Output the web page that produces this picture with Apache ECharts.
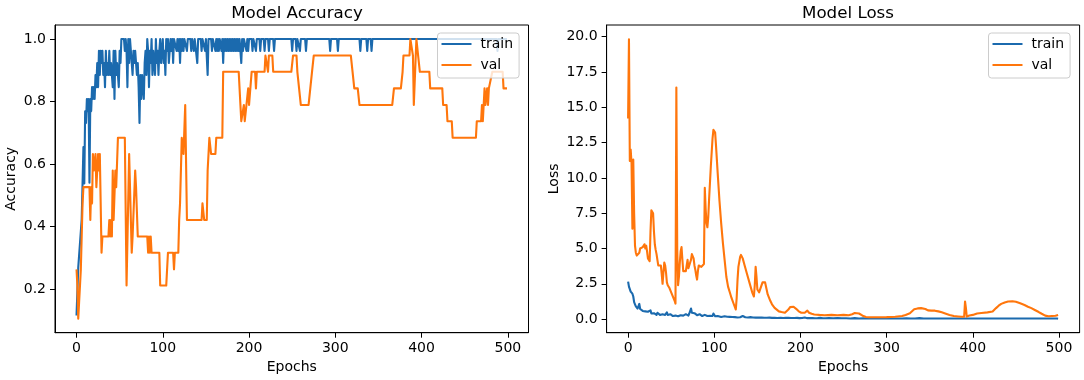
<!DOCTYPE html>
<html lang="en" style="height: 100%">
<head>
<meta charset="utf-8">
<title>Model Accuracy / Model Loss</title>
</head>
<body style="height: 100%; margin: 0; background: #fff">
<div id="container" style="width: 1084px; height: 380px"></div>

<script type="text/javascript" src="https://cdn.jsdelivr.net/npm/echarts/dist/echarts.min.js"></script>

<script type="text/javascript">

// [epoch, value] pairs
const accTrain = [
  [0,0.115],[2,0.269],[4,0.269],[6,0.423],[8,0.654],[9,0.538],[10,0.769],[11,0.731],[12,0.808],[13,0.769],
  [14,0.808],[15,0.54],[16,0.808],[17,0.769],[18,0.846],[19,0.808],[20,0.846],[21,0.808],[22,0.885],[23,0.846],
  [24,0.923],[25,0.846],[26,0.962],[27,0.885],[28,0.962],[29,0.923],[30,0.962],[31,0.885],[32,0.923],[33,0.846],
  [34,0.962],[35,0.885],[36,0.923],[37,0.885],[38,0.962],[39,0.885],[40,0.923],[41,0.885],[42,0.846],[43,0.962],
  [44,0.808],[45,0.962],[46,0.885],[47,0.923],[48,0.885],[49,0.846],[50,0.962],[51,0.923],[52,1],[55,1],
  [56,0.962],[57,1],[58,0.962],[59,0.846],[60,1],[61,0.923],[62,1],[63,0.962],[64,0.923],[65,0.885],
  [66,0.962],[67,0.923],[68,0.962],[69,0.923],[70,0.885],[71,0.923],[72,0.846],[73,0.731],[74,0.885],[75,0.808],
  [76,0.885],[77,0.846],[78,0.808],[79,0.923],[80,0.962],[81,0.885],[82,1],[83,0.962],[84,0.846],[85,0.962],
  [86,0.923],[87,1],[88,0.885],[89,0.962],[90,0.923],[91,0.885],[92,1],[93,0.923],[94,0.962],[95,0.885],
  [96,0.962],[97,1],[98,0.923],[99,0.962],[100,1],[101,0.923],[102,0.962],[103,0.885],[104,1],[105,0.962],
  [106,1],[107,0.923],[108,0.962],[109,1],[110,0.962],[111,1],[112,0.923],[113,1],[115,1],[116,0.962],
  [117,1],[118,0.962],[119,1],[120,0.923],[121,1],[122,0.962],[123,1],[124,0.962],[125,1],[127,1],
  [128,0.962],[129,1],[132,1],[133,0.962],[134,1],[135,1],[136,0.962],[137,1],[139,1],[140,0.923],
  [141,1],[144,1],[145,0.962],[146,1],[148,1],[149,0.962],[150,1],[151,1],[152,0.885],[153,1],
  [156,1],[157,0.962],[158,1],[160,1],[161,0.962],[162,1],[163,0.962],[164,1],[165,0.962],[166,1],
  [167,1],[168,0.962],[169,1],[170,0.923],[171,1],[172,0.962],[173,1],[174,0.962],[175,1],[176,0.962],
  [177,1],[178,0.962],[179,1],[180,0.962],[181,1],[182,0.962],[183,1],[184,0.962],[185,1],[186,0.962],
  [187,1],[188,0.962],[189,1],[190,0.962],[191,0.923],[192,1],[193,0.962],[194,1],[196,1],[197,0.962],
  [198,1],[199,0.962],[200,1],[203,1],[204,0.962],[205,1],[207,1],[208,0.962],[209,1],[212,1],
  [213,0.962],[214,1],[217,1],[218,0.962],[219,1],[222,1],[223,0.962],[224,1],[228,1],[229,0.962],
  [230,1],[249,1],[250,0.962],[251,1],[254,1],[255,0.962],[256,1],[258,1],[259,0.962],[260,1],
  [265,1],[266,0.962],[267,1],[293,1],[294,0.962],[295,1],[302,1],[303,0.962],[304,1],[328,1],
  [329,0.962],[330,1],[336,1],[337,0.962],[338,1],[341,1],[342,0.962],[343,1],[487,1],[488,0.962],
  [489,1],[499,1]
];

const accVal = [
  [0,0.263],[1,0.211],[2,0.105],[3,0.158],[5,0.263],[6,0.368],[7,0.474],[8,0.526],[15,0.526],[16,0.421],
  [17,0.526],[18,0.474],[19,0.632],[20,0.579],[22,0.632],[23,0.526],[24,0.526],[25,0.632],[26,0.579],[27,0.632],
  [29,0.316],[30,0.368],[37,0.368],[38,0.421],[39,0.368],[40,0.421],[41,0.368],[42,0.579],[43,0.421],[44,0.421],
  [45,0.579],[46,0.526],[48,0.684],[56,0.684],[58,0.211],[61,0.632],[64,0.316],[65,0.368],[68,0.579],[69,0.526],
  [71,0.368],[82,0.368],[83,0.316],[84,0.368],[85,0.316],[86,0.368],[87,0.316],[96,0.316],[97,0.211],[104,0.211],
  [106,0.316],[112,0.316],[113,0.263],[114,0.316],[118,0.316],[119,0.421],[120,0.474],[122,0.684],[124,0.632],[126,0.789],
  [128,0.421],[145,0.421],[146,0.474],[147,0.474],[148,0.421],[151,0.421],[152,0.579],[154,0.684],[156,0.632],[161,0.632],
  [162,0.684],[169,0.684],[170,0.895],[188,0.895],[190,0.789],[191,0.737],[193,0.737],[194,0.789],[195,0.737],[196,0.737],
  [197,0.789],[199,0.842],[200,0.789],[203,0.895],[207,0.895],[208,0.842],[209,0.895],[218,0.895],[219,0.947],[221,0.947],
  [222,0.895],[223,0.947],[227,0.947],[228,0.895],[249,0.895],[251,0.947],[255,0.947],[256,0.895],[258,0.842],[260,0.789],
  [269,0.789],[271,0.842],[273,0.895],[275,0.947],[318,0.947],[320,0.895],[322,0.842],[326,0.842],[328,0.789],[366,0.789],
  [368,0.842],[376,0.842],[378,0.895],[379,0.947],[386,0.947],[387,1],[389,1],[390,0.947],[391,0.789],[392,0.789],
  [394,1],[395,1],[396,0.947],[398,0.895],[409,0.895],[410,0.842],[424,0.842],[425,0.789],[429,0.789],[430,0.737],
  [435,0.737],[436,0.684],[463,0.684],[464,0.737],[469,0.737],[470,0.789],[471,0.737],[473,0.842],[474,0.789],[476,0.842],
  [477,0.789],[478,0.842],[480,0.842],[482,0.895],[494,0.895],[495,0.842],[499,0.842]
];

const lossTrain = [
  [0,2.66],[1,2.3],[2,2.2],[3,1.95],[4,2.05],[5,1.8],[6,1.6],[7,1.2],[8,1.05],[9,0.9],
  [10,0.82],[11,0.75],[12,0.7],[13,1.08],[14,0.72],[15,0.65],[16,0.7],[17,0.58],[18,0.62],[19,0.52],
  [20,0.55],[21,0.5],[22,0.45],[23,0.52],[24,0.4],[25,0.44],[26,0.62],[27,0.4],[28,0.48],[29,0.33],
  [30,0.42],[31,0.36],[32,0.4],[33,0.3],[34,0.45],[35,0.33],[36,0.38],[37,0.3],[38,0.42],[39,0.32],
  [40,0.35],[41,0.28],[42,0.4],[43,0.3],[44,0.36],[45,0.48],[46,0.3],[47,0.33],[48,0.25],[49,0.35],
  [50,0.28],[52,0.22],[53,0.3],[54,0.2],[55,0.25],[56,0.18],[57,0.27],[58,0.2],[59,0.3],[60,0.22],
  [61,0.28],[62,0.2],[63,0.32],[64,0.25],[65,0.3],[66,0.22],[67,0.35],[68,0.28],[69,0.32],[70,0.25],
  [71,0.4],[72,0.5],[73,0.75],[74,0.45],[75,0.5],[76,0.38],[77,0.42],[78,0.3],[79,0.35],[80,0.28],
  [81,0.32],[82,0.24],[83,0.35],[84,0.27],[85,0.3],[86,0.22],[87,0.3],[88,0.25],[89,0.3],[90,0.2],
  [91,0.28],[92,0.22],[93,0.25],[94,0.18],[95,0.24],[96,0.2],[97,0.28],[98,0.22],[99,0.4],[100,0.26],
  [101,0.2],[102,0.24],[103,0.17],[104,0.22],[105,0.16],[106,0.2],[108,0.15],[109,0.19],[110,0.14],[112,0.2],
  [113,0.13],[115,0.17],[116,0.12],[118,0.16],[119,0.11],[121,0.15],[122,0.1],[124,0.14],[125,0.09],[127,0.12],
  [128,0.08],[130,0.13],[131,0.09],[133,0.22],[134,0.1],[136,0.13],[137,0.08],[139,0.12],[140,0.08],[142,0.14],
  [143,0.09],[145,0.12],[146,0.07],[148,0.11],[149,0.2],[150,0.08],[152,0.11],[153,0.07],[155,0.12],[156,0.08],
  [158,0.1],[159,0.06],[161,0.1],[162,0.07],[164,0.11],[165,0.06],[167,0.09],[168,0.06],[170,0.1],[171,0.06],
  [173,0.08],[175,0.05],[177,0.1],[178,0.06],[180,0.08],[181,0.05],[183,0.09],[184,0.05],[186,0.1],[187,0.06],
  [189,0.08],[190,0.13],[191,0.05],[193,0.08],[194,0.05],[196,0.09],[197,0.05],[199,0.07],[200,0.04],[202,0.08],
  [203,0.05],[205,0.12],[206,0.05],[208,0.07],[209,0.04],[211,0.08],[212,0.04],[214,0.07],[215,0.04],[217,0.06],
  [218,0.03],[220,0.07],[221,0.04],[223,0.09],[224,0.04],[226,0.06],[227,0.03],[229,0.06],[230,0.03],[233,0.07],
  [235,0.03],[238,0.06],[240,0.03],[243,0.08],[245,0.03],[248,0.06],[250,0.02],[253,0.06],[255,0.03],[258,0.05],
  [260,0.02],[263,0.07],[265,0.03],[268,0.05],[270,0.02],[273,0.06],[275,0.03],[278,0.05],[280,0.02],[283,0.05],
  [285,0.02],[288,0.06],[290,0.02],[293,0.05],[295,0.03],[298,0.05],[300,0.02],[303,0.06],[305,0.02],[308,0.04],
  [310,0.02],[313,0.05],[315,0.02],[318,0.04],[320,0.02],[323,0.06],[325,0.02],[328,0.04],[330,0.02],[333,0.05],
  [335,0.02],[338,0.07],[340,0.02],[343,0.04],[345,0.02],[348,0.05],[350,0.02],[353,0.04],[355,0.02],[358,0.05],
  [360,0.02],[363,0.04],[365,0.02],[368,0.05],[370,0.02],[373,0.04],[375,0.02],[378,0.05],[380,0.02],[383,0.04],
  [385,0.02],[388,0.05],[390,0.02],[393,0.04],[395,0.02],[398,0.04],[400,0.02],[403,0.05],[405,0.02],[408,0.04],
  [410,0.02],[413,0.04],[415,0.02],[418,0.05],[420,0.02],[423,0.04],[425,0.02],[428,0.04],[430,0.02],[433,0.05],
  [435,0.02],[438,0.04],[440,0.02],[443,0.04],[445,0.02],[448,0.05],[450,0.02],[453,0.04],[455,0.02],[458,0.04],
  [460,0.02],[463,0.05],[465,0.02],[468,0.04],[470,0.02],[473,0.04],[475,0.02],[478,0.05],[480,0.02],[483,0.04],
  [485,0.02],[488,0.04],[490,0.02],[493,0.05],[495,0.02],[498,0.04],[499,0.03]
];

const lossVal = [
  [0,14.2],[1,19.8],[2,11.2],[3,12.0],[4,11.0],[5,6.4],[6,11.3],[7,7.5],[8,5.2],[9,4.7],
  [10,4.5],[12,4.4],[13,4.7],[14,5.0],[16,5.0],[17,5.1],[19,5.3],[20,5.0],[21,5.2],[22,4.8],
  [23,4.3],[24,4.2],[25,4.1],[26,6.2],[27,7.7],[28,7.8],[29,7.5],[30,6.2],[31,5.3],[32,4.9],
  [33,4.6],[34,4.2],[35,3.8],[37,3.7],[38,3.8],[39,3.2],[40,2.5],[41,3.3],[42,4.0],[43,3.8],
  [44,3.3],[45,2.6],[46,2.4],[48,2.2],[50,1.9],[52,1.6],[54,1.3],[55,1.1],[56,16.4],[57,5.0],
  [58,2.4],[59,3.0],[60,4.0],[61,4.8],[62,5.1],[63,4.2],[64,3.4],[65,3.3],[66,3.5],[67,3.4],
  [68,3.8],[69,4.2],[70,3.6],[71,3.7],[72,3.5],[73,4.2],[74,4.6],[75,4.7],[76,4.3],[77,3.8],
  [78,3.5],[79,3.1],[80,2.8],[81,3.4],[82,3.8],[83,3.7],[84,3.9],[85,3.7],[86,3.8],[87,3.7],
  [88,3.9],[89,9.3],[90,7.8],[91,6.8],[92,6.5],[93,7.2],[94,8.5],[96,10.8],[98,12.8],[99,13.4],
  [100,13.5],[101,13.2],[102,12.3],[104,10.3],[106,8.4],[108,6.8],[110,5.4],[112,4.2],[114,3.0],[116,2.3],
  [118,1.9],[120,1.5],[123,1.0],[125,0.68],[126,1.5],[127,2.8],[128,3.7],[130,4.4],[131,4.55],[133,4.3],
  [135,3.85],[138,3.2],[141,2.55],[144,1.9],[146,1.6],[147,2.4],[148,3.7],[149,3.0],[150,2.1],[152,1.9],
  [154,2.0],[156,2.6],[157,2.7],[159,2.6],[162,1.75],[165,1.3],[167,1.05],[170,0.8],[172,0.68],[175,0.55],
  [178,0.5],[182,0.45],[184,0.55],[186,0.68],[188,0.85],[190,0.92],[192,0.88],[195,0.73],[198,0.55],[201,0.45],
  [205,0.45],[207,0.58],[208,0.6],[210,0.45],[213,0.38],[216,0.33],[222,0.3],[228,0.28],[236,0.3],[243,0.28],
  [250,0.3],[256,0.28],[260,0.35],[263,0.43],[265,0.45],[268,0.4],[270,0.33],[273,0.22],[276,0.15],[280,0.13],
  [290,0.13],[300,0.14],[310,0.17],[318,0.22],[322,0.3],[327,0.42],[332,0.7],[336,0.76],[340,0.78],[342,0.82],
  [345,0.72],[348,0.62],[352,0.6],[356,0.6],[360,0.55],[364,0.48],[368,0.4],[373,0.3],[378,0.22],[383,0.19],
  [387,0.17],[390,0.18],[391,1.25],[392,0.8],[393,0.18],[396,0.26],[400,0.3],[405,0.4],[410,0.43],[417,0.48],
  [423,0.54],[427,0.78],[430,0.95],[433,1.08],[437,1.18],[441,1.25],[446,1.27],[450,1.23],[455,1.12],[460,1.0],
  [464,0.88],[468,0.78],[472,0.65],[476,0.52],[480,0.38],[484,0.25],[488,0.2],[492,0.22],[496,0.24],[499,0.3]
];

const epochTicks = [0, 100, 200, 300, 400, 500];
const accTicks = [0.2, 0.4, 0.6, 0.8, 1.0];
const lossTicks = [0, 2.5, 5, 7.5, 10, 12.5, 15, 17.5, 20];

const BLUE = '#1b6aae';
const ORANGE = '#ff760c';
const FONT = 'DejaVu Sans';

var dom = document.getElementById('container');
var myChart = echarts.init(dom, null, {width: 1084, height: 380});

function xAxisFor(gridIndex) {
    return {
        type: 'value', gridIndex: gridIndex,
        min: -24.95, max: 523.95,
        name: 'Epochs', nameLocation: 'middle', nameGap: 28,
        nameTextStyle: {fontFamily: FONT, fontSize: 14, color: '#000'},
        axisLine: {show: true, onZero: false, lineStyle: {color: '#000', width: 1}},
        axisTick: {show: true, length: 5, customValues: epochTicks, lineStyle: {color: '#000', width: 1}},
        axisLabel: {customValues: epochTicks, margin: 9, fontFamily: FONT, fontSize: 14, color: '#000'},
        splitLine: {show: false}
    };
}

function yAxisFor(gridIndex, min, max, ticks, name, gap) {
    return {
        type: 'value', gridIndex: gridIndex,
        min: min, max: max,
        name: name, nameLocation: 'middle', nameGap: gap, nameRotate: 90,
        nameTextStyle: {fontFamily: FONT, fontSize: 14, color: '#000'},
        axisLine: {show: true, onZero: false, lineStyle: {color: '#000', width: 1}},
        axisTick: {show: true, length: 5, customValues: ticks, lineStyle: {color: '#000', width: 1}},
        axisLabel: {
            customValues: ticks, margin: 9, fontFamily: FONT, fontSize: 14, color: '#000',
            formatter: function (v) { return v.toFixed(1); }
        },
        splitLine: {show: false}
    };
}

function legendAt(left) {
    return {
        orient: 'vertical', left: left, top: 33,
        data: ['train', 'val'],
        icon: 'rect', itemWidth: 30, itemHeight: 2, itemGap: 5,
        padding: [3, 6, 5, 4],
        backgroundColor: 'rgba(255,255,255,0.8)',
        borderColor: '#cccccc', borderWidth: 1, borderRadius: 3,
        selectedMode: false,
        textStyle: {fontFamily: FONT, fontSize: 14, color: '#000', lineHeight: 16, padding: [0, 0, 0, 4]}
    };
}

function lineSeries(name, data, color, xi) {
    return {
        name: name, type: 'line', data: data,
        xAxisIndex: xi, yAxisIndex: xi,
        showSymbol: false, symbol: 'none',
        lineStyle: {color: color, width: 2.1, join: 'round'},
        itemStyle: {color: color},
        emphasis: {disabled: true}
    };
}

var option = {
    animation: false,
    backgroundColor: '#fff',
    title: [
        {text: 'Model Accuracy', left: 292, top: 0, textAlign: 'center',
         textStyle: {fontFamily: FONT, fontSize: 16.7, fontWeight: 'normal', color: '#000'}},
        {text: 'Model Loss', left: 843, top: 0, textAlign: 'center',
         textStyle: {fontFamily: FONT, fontSize: 16.7, fontWeight: 'normal', color: '#000'}}
    ],
    legend: [legendAt(437.5), legendAt(988.5)],
    grid: [
        {left: 55, top: 25, width: 473.5, height: 307.7, show: true, borderColor: '#000', borderWidth: 1},
        {left: 606.6, top: 25, width: 473, height: 307.7, show: true, borderColor: '#000', borderWidth: 1}
    ],
    xAxis: [xAxisFor(0), xAxisFor(1)],
    yAxis: [
        yAxisFor(0, 0.0602, 1.0448, accTicks, 'Accuracy', 37),
        yAxisFor(1, -0.96, 20.82, lossTicks, 'Loss', 45)
    ],
    series: [
        lineSeries('train', accTrain, BLUE, 0),
        lineSeries('val', accVal, ORANGE, 0),
        lineSeries('train', lossTrain, BLUE, 1),
        lineSeries('val', lossVal, ORANGE, 1)
    ]
};

if (option && typeof option === 'object') {
    myChart.setOption(option);
}

window.addEventListener('resize', myChart.resize);
</script>
</body>
</html>
